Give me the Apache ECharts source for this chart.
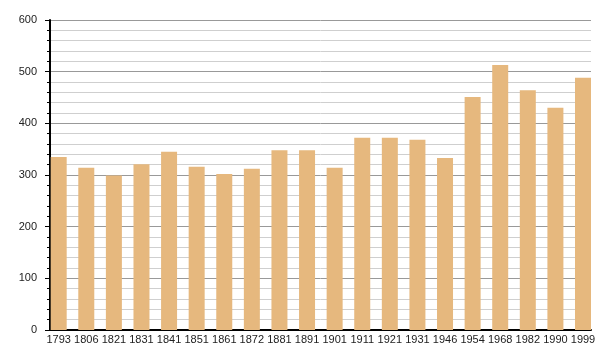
<!DOCTYPE html>
<html>
<head>
<meta charset="utf-8">
<script src="https://cdn.jsdelivr.net/npm/echarts@6/dist/echarts.min.js"></script>
<style>html,body{margin:0;padding:0;background:#fff}#c{width:600px;height:360px}</style>
</head>
<body>
<div id="c"></div>
<script>
var categories = ['1793','1806','1821','1831','1841','1851','1861','1872','1881','1891','1901','1911','1921','1931','1946','1954','1968','1982','1990','1999'];
var values = [335, 314, 299, 321, 345, 316, 302, 312, 348, 348, 314, 372, 372, 368, 333, 451, 513, 464, 430, 488];
var yTicks = [0, 100, 200, 300, 400, 500, 600];

var seriesData = values.map(function (v, i) { return [i, v]; });
var idx = categories.map(function (c, i) { return i; });

var chart = echarts.init(document.getElementById('c'));
chart.setOption({
  animation: false,
  backgroundColor: '#fff',
  grid: { left: 50, right: 9, top: 20, bottom: 30 },
  xAxis: {
    type: 'value',
    min: -0.315,
    max: 19.29,
    axisLine: { show: true, onZero: false, lineStyle: { color: '#000', width: 2 } },
    axisTick: { show: false },
    splitLine: { show: false },
    axisLabel: {
      customValues: idx,
      formatter: function (v) { return categories[Math.round(v)]; },
      color: '#222', fontFamily: 'Liberation Sans, Arial, sans-serif', fontSize: 11, margin: 4
    }
  },
  yAxis: {
    type: 'value',
    min: 0, max: 600, interval: 100,
    axisLine: { show: true, onZero: false, lineStyle: { color: '#000', width: 2 } },
    axisTick: { show: true, length: 5, lineStyle: { color: '#000', width: 1 } },
    minorTick: { show: true, splitNumber: 5, length: 3, lineStyle: { color: '#000', width: 1 } },
    splitLine: { show: true, lineStyle: { color: '#999', width: 1 } },
    minorSplitLine: { show: true, lineStyle: { color: '#cfcfcf', width: 1 } },
    axisLabel: {
      formatter: function (v) { return yTicks.indexOf(v) >= 0 ? String(v) : ''; },
      color: '#222', fontFamily: 'Liberation Sans, Arial, sans-serif', fontSize: 11, margin: 13
    }
  },
  series: [{
    type: 'bar',
    data: seriesData,
    barWidth: 16,
    itemStyle: { color: '#E6B87E' }
  }]
});
</script>
</body>
</html>
